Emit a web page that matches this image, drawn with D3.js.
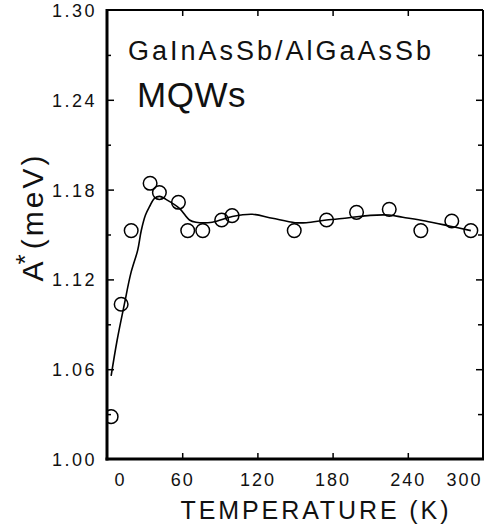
<!DOCTYPE html>
<html>
<head>
<meta charset="utf-8">
<script src="https://cdn.jsdelivr.net/npm/d3@7/dist/d3.min.js"></script>
<style>
  html, body { margin: 0; padding: 0; background: #fff; }
  svg { display: block; }
  text { font-family: "Liberation Sans", Arial, Helvetica, sans-serif; fill: #111; }
</style>
</head>
<body>
<div id="chart"></div>
<script>
// Measured points: temperature (K) and A* (meV)
const tempK = [3.3, 11.3, 19.3, 34.4, 41.8, 57, 64.4, 76.4, 91.5, 99.8, 149.4, 175.2, 199.1, 225.2, 250.4, 275.1, 290.3];
const aStar = [1.0283, 1.1034, 1.1526, 1.1842, 1.178, 1.1715, 1.1526, 1.1526, 1.1597, 1.1626, 1.1526, 1.1597, 1.1648, 1.1668, 1.1526, 1.159, 1.1526];

// Fitted curve through the data
const fitT = [3.3, 8, 13.9, 19, 24.5, 27.3, 30.7, 33.9, 37.9, 42, 47, 57.8, 65.8, 71, 84, 100, 116, 132, 150, 159, 175, 193, 210, 225, 236, 254, 273, 290.3];
const fitA = [1.0555, 1.079, 1.1036, 1.124, 1.1396, 1.1525, 1.163, 1.1686, 1.1742, 1.1755, 1.1735, 1.1675, 1.1597, 1.1582, 1.1582, 1.162, 1.1635, 1.1608, 1.1579, 1.1579, 1.1597, 1.1612, 1.1628, 1.163, 1.1615, 1.159, 1.1557, 1.1526];

// Axis ticks
const xTicks = [0, 60, 120, 180, 240, 300];
const yTicks = [1.00, 1.03, 1.06, 1.09, 1.12, 1.15, 1.18, 1.21, 1.24, 1.27, 1.30];
const yLabelled = ["1.00", "1.06", "1.12", "1.18", "1.24", "1.30"];

const W = 486, H = 532;
const L = 107, R = 483, T = 10, B = 459;

const svg = d3.select("#chart").append("svg")
  .attr("width", W).attr("height", H);

const x = d3.scaleLinear().domain([0, 300]).range([L, R]);
const y = d3.scaleLinear().domain([1.00, 1.30]).range([B, T]);

const isMajor = v => yLabelled.includes(v.toFixed(2));

// Frame: heavier left and bottom edges
svg.append("line").attr("x1", L).attr("x2", R).attr("y1", T).attr("y2", T)
  .attr("stroke", "#000").attr("stroke-width", 2);
svg.append("line").attr("x1", R).attr("x2", R).attr("y1", T).attr("y2", B)
  .attr("stroke", "#000").attr("stroke-width", 2);
svg.append("line").attr("x1", L).attr("x2", L).attr("y1", T - 1).attr("y2", B + 1.5)
  .attr("stroke", "#000").attr("stroke-width", 3);
svg.append("line").attr("x1", L - 1.5).attr("x2", R + 1).attr("y1", B).attr("y2", B)
  .attr("stroke", "#000").attr("stroke-width", 3);

// Bottom axis
const gx = svg.append("g").attr("transform", `translate(0,${B})`)
  .call(d3.axisBottom(x).tickValues(xTicks).tickSize(-6).tickPadding(14).tickFormat(d3.format("d")));
gx.select(".domain").remove();
gx.selectAll(".tick line").attr("stroke", "#000").attr("stroke-width", 1.5);
gx.selectAll(".tick text")
  .style("font-size", "18px").style("letter-spacing", "2px")
  .attr("fill", "#111")
  .attr("dx", d => d === 0 ? 13 : d === 300 ? -19 : 0);
gx.selectAll(".tick").filter(d => d === 0 || d === 300).select("line").remove();

// Top axis (ticks only)
const gxt = svg.append("g").attr("transform", `translate(0,${T})`)
  .call(d3.axisTop(x).tickValues(xTicks.filter(d => d > 0 && d < 300)).tickSize(-6).tickFormat(""));
gxt.select(".domain").remove();
gxt.selectAll(".tick line").attr("stroke", "#000").attr("stroke-width", 1.5);

// Left axis
const gy = svg.append("g").attr("transform", `translate(${L},0)`)
  .call(d3.axisLeft(y).tickValues(yTicks).tickSize(0).tickPadding(10)
    .tickFormat(d => isMajor(d) ? d.toFixed(2) : ""));
gy.select(".domain").remove();
gy.selectAll(".tick line").remove();
gy.selectAll(".tick").filter(d => d > 1.001 && d < 1.299)
  .append("line").attr("x1", 0).attr("x2", d => isMajor(d) ? 7 : 4)
  .attr("stroke", "#000").attr("stroke-width", 1.5);
gy.selectAll(".tick text")
  .style("font-size", "18px").style("letter-spacing", "2.5px")
  .attr("fill", "#111").attr("dy", "0.36em");

// Right axis (ticks only)
const gyr = svg.append("g").attr("transform", `translate(${R},0)`)
  .call(d3.axisRight(y).tickValues(yTicks.filter(d => d > 1.001 && d < 1.299)).tickSize(0).tickFormat(""));
gyr.select(".domain").remove();
gyr.selectAll(".tick").append("line").attr("x1", 0).attr("x2", d => isMajor(d) ? -7 : -5)
  .attr("stroke", "#000").attr("stroke-width", 1.5);

// Plot contents, clipped to the frame
svg.append("clipPath").attr("id", "plot-clip")
  .append("rect").attr("x", L).attr("y", T).attr("width", R - L).attr("height", B - T);
const plot = svg.append("g").attr("clip-path", "url(#plot-clip)");

const fit = fitT.map((t, i) => [t, fitA[i]]);
plot.append("path")
  .datum(fit)
  .attr("fill", "none").attr("stroke", "#000").attr("stroke-width", 1.6)
  .attr("d", d3.line().x(d => x(d[0])).y(d => y(d[1])).curve(d3.curveCatmullRom.alpha(0.5)));

plot.selectAll("circle.pt")
  .data(tempK.map((t, i) => [t, aStar[i]]))
  .join("circle").attr("class", "pt")
  .attr("cx", d => x(d[0])).attr("cy", d => y(d[1])).attr("r", 6.8)
  .attr("fill", "none").attr("stroke", "#000").attr("stroke-width", 1.5);

// Annotation
svg.append("text").attr("x", 128).attr("y", 60)
  .style("font-size", "27px").style("letter-spacing", "3px")
  .text("GaInAsSb/AlGaAsSb");
svg.append("text").attr("x", 137).attr("y", 107)
  .style("font-size", "35px").style("letter-spacing", "0.5px")
  .text("MQWs");

// Axis titles
svg.append("text").attr("x", 316).attr("y", 519).attr("text-anchor", "middle")
  .style("font-size", "25px").style("letter-spacing", "2.9px")
  .text("TEMPERATURE (K)");

const yt = svg.append("text")
  .attr("transform", "translate(43,217) rotate(-90)")
  .attr("text-anchor", "middle")
  .style("font-size", "30px").style("letter-spacing", "3px");
yt.append("tspan").text("A");
yt.append("tspan").attr("dy", "-9").attr("dx", "-6").style("font-size", "26px").text("*");
yt.append("tspan").attr("dy", "9").attr("dx", "2").text("(meV)");
</script>
</body>
</html>
